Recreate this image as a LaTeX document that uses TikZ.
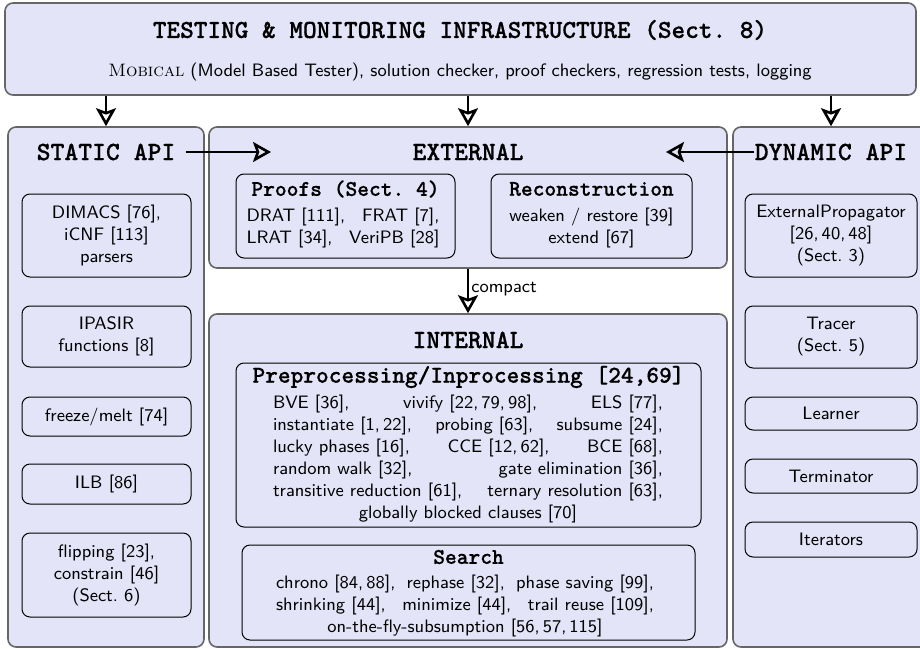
\documentclass[tikz,border=0pt]{standalone}
\usepackage{fontspec}
\usepackage{tikz}
\usetikzlibrary{arrows.meta}

\newfontfamily\boldTT{lmmonolt10-bold.otf}[FakeBold=0.6]
\definecolor{boxFill}{RGB}{228,228,248}
\newcommand{\bodyFont}{\fontsize{9}{11}\selectfont\sffamily}
\newcommand{\headFont}{\fontsize{13.2}{15}\selectfont\boldTT}
\newcommand{\titleFont}{\fontsize{13}{15}\selectfont\boldTT}
\newcommand{\preFont}{\fontsize{12.1}{14}\selectfont\boldTT}
\newcommand{\subFont}{\fontsize{11.2}{13}\selectfont\boldTT}
\newcommand{\midLine}[1]{\hbox to\hsize{\hfil #1\hfil}}

\begin{document}
\begin{tikzpicture}[x=0.5pt, y=-0.5pt,
        every node/.style={font=\bodyFont}]
        \tikzstyle{outerBox} = [draw=black!60, fill=boxFill, line width=0.8pt,
                                rounded corners=4pt, inner sep=0pt]
        \tikzstyle{innerBox} = [draw=black, fill=boxFill, line width=0.5pt,
                                rounded corners=4pt, align=center, inner sep=0pt]
        \tikzstyle{flowArrow} = [draw=black, line width=1.3pt,
                                 -{Stealth[open, length=9pt, width=10pt, inset=1.8pt]}]
        \useasboundingbox (0,0) rectangle (920,648);
        % containers
        \node[outerBox, minimum width=455.5pt, minimum height=46pt] (top) at (460.5,49) {};
        \node[outerBox, minimum width=98pt, minimum height=260pt] (static) at (106,387) {};
        \node[outerBox, minimum width=259pt, minimum height=70.5pt] (external) at (468,197.5) {};
        \node[outerBox, minimum width=98pt, minimum height=260pt] (dynamic) at (831,387) {};
        \node[outerBox, minimum width=259pt, minimum height=166.5pt] (internal) at (468,480.5) {};
        % headings
        \node (topTitle) at (460,30) {\titleFont TESTING \& MONITORING INFRASTRUCTURE (Sect.~8)};
        \node (topText) at (460,72) {{\rmfamily\textsc{Mobical}} (Model Based Tester), solution checker,
            proof checkers, regression tests, logging};
        \node[inner sep=0pt] (staticLbl) at (106,152) {\headFont STATIC API};
        \node[inner sep=0pt] (externalLbl) at (468,152) {\headFont EXTERNAL};
        \node[inner sep=0pt] (dynamicLbl) at (831,152) {\headFont DYNAMIC API};
        \node[inner sep=0pt] (internalLbl) at (468,340) {\headFont INTERNAL};
        \coordinate (staticTip) at (271,152);
        \coordinate (dynamicTip) at (666,152);
        % external
        \node[innerBox, minimum width=109.5pt, minimum height=42pt] (proofs) at (345.5,216) {};
        \node (proofsTitle) at (345.5,189) {\subFont Proofs (Sect.~4)};
        \node[text width=96.5pt, align=justify, inner sep=0pt] (proofsText) at (343,228)
            {DRAT [111], \hfill FRAT [7],\\ LRAT [34], \hfill VeriPB [28]};
        \node[innerBox, minimum width=100.5pt, minimum height=42pt] (recon) at (591.5,216) {};
        \node (reconTitle) at (591.5,189) {\subFont Reconstruction};
        \node[align=center, inner sep=0pt] (reconText) at (591.5,228)
            {weaken / restore [39]\\ extend [67]};
        % internal
        \node[innerBox, minimum width=232.5pt, minimum height=82pt] (prepro) at (468.5,445) {};
        \node (preproTitle) at (468.5,377) {\preFont Preprocessing/Inprocessing [24,69]};
        \node[text width=195pt, align=justify, inner sep=0pt] (preproText) at (468,459)
            {BVE [36], \hfill vivify [22,\,79,\,98], \hfill ELS [77],\\
             instantiate [1,\,22], \hfill probing [63], \hfill subsume [24],\\
             lucky phases [16], \hfill CCE [12,\,62], \hfill BCE [68],\\
             random walk [32], \hfill gate elimination [36],\\
             transitive reduction [61], \hfill ternary resolution [63],\\
             \midLine{globally blocked clauses [70]}};
        \node[innerBox, minimum width=226.5pt, minimum height=47.5pt] (search) at (468.5,592.5) {};
        \node (searchTitle) at (468.5,557) {\subFont Search};
        \node[text width=189pt, align=justify, inner sep=0pt] (searchText) at (465,606)
            {chrono [84,\,88], \hfill rephase [32], \hfill phase saving [99],\\
             shrinking [44], \hfill minimize [44], \hfill trail reuse [109],\\
             \midLine{on-the-fly-subsumption [56,\,57,\,115]}};
        % static api
        \node[innerBox, minimum width=84.5pt, minimum height=41.5pt] (dimacs) at (106.5,235.5)
            {DIMACS [76],\\ iCNF [113]\\ parsers};
        \node[innerBox, minimum width=84.5pt, minimum height=30.5pt] (ipasir) at (106.5,336.5)
            {IPASIR\\ functions [8]};
        \node[innerBox, minimum width=84.5pt, minimum height=19.5pt] (freeze) at (106.5,416.5)
            {freeze/melt [74]};
        \node[innerBox, minimum width=84.5pt, minimum height=20pt] (ilb) at (106.5,484)
            {ILB [86]};
        \node[innerBox, minimum width=84.5pt, minimum height=42pt] (flipping) at (106.5,575)
            {flipping [23],\\ constrain [46]\\ (Sect.~6)};
        % dynamic api
        \node[innerBox, minimum width=86pt, minimum height=41.5pt] (propagator) at (831,235.5)
            {ExternalPropagator\\ {[26,\,40,\,48]}\\ (Sect.~3)};
        \node[innerBox, minimum width=86pt, minimum height=31pt] (tracer) at (831,337)
            {Tracer\\ (Sect.~5)};
        \node[innerBox, minimum width=86pt, minimum height=16.5pt] (learner) at (831,413.5)
            {Learner};
        \node[innerBox, minimum width=86pt, minimum height=17pt] (terminator) at (831,476)
            {Terminator};
        \node[innerBox, minimum width=86pt, minimum height=17.5pt] (iterators) at (831,539.5)
            {Iterators};
        % connectors
        \foreach \to in {static, external, dynamic}
            \draw[flowArrow] (top.south -| \to.north) -- (\to.north);
        \draw[flowArrow, shorten <=5pt] (staticLbl.east) -- (staticTip);
        \draw[flowArrow] (dynamicLbl.west) -- (dynamicTip);
        \draw[flowArrow] (external.south) -- node[right, inner sep=1pt, pos=0.45] {compact} (internal.north);
    \end{tikzpicture}
\end{document}
